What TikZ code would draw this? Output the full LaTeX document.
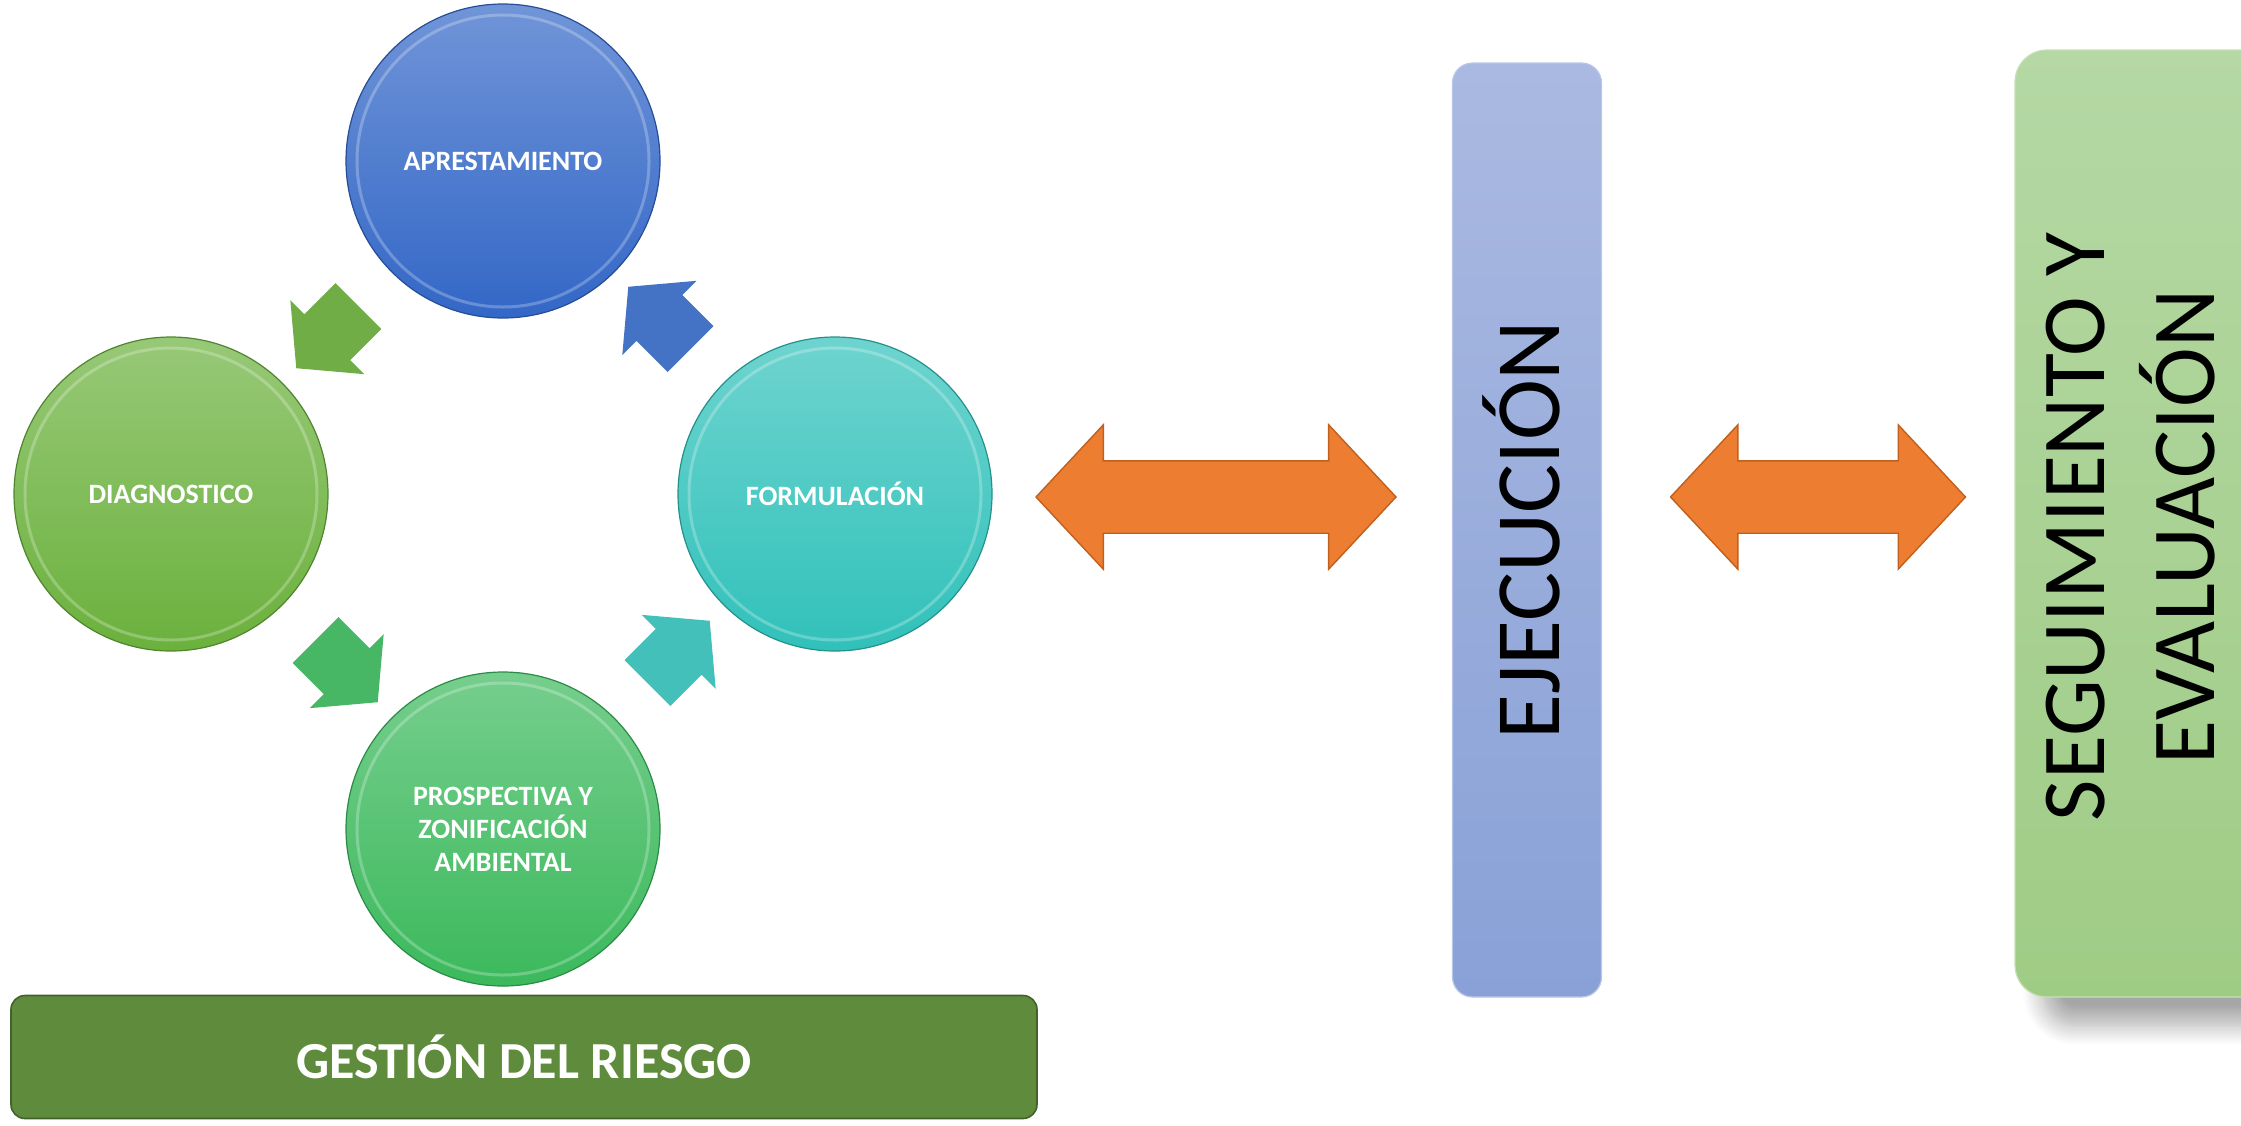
\documentclass[tikz,border=0pt]{standalone}
\usepackage{fontspec}
\setmainfont{Carlito}
\usepackage{xcolor}
\usepackage{tikz}
\usetikzlibrary{shapes.arrows,calc,shadows.blur}

\definecolor{apreBlue}{HTML}{3367C7}
\definecolor{diagGreen}{HTML}{6BB13D}
\definecolor{formTeal}{HTML}{31C1BA}
\definecolor{prosGreen}{HTML}{3BB95C}
\definecolor{turnGreen}{HTML}{70AD47}
\definecolor{turnMid}{HTML}{47B766}
\definecolor{turnTeal}{HTML}{44C0BA}
\definecolor{turnBlue}{HTML}{4472C4}
\definecolor{orng}{HTML}{ED7D31}
\definecolor{orngDark}{HTML}{C0601E}
\definecolor{riesgoGreen}{HTML}{5F8B3D}
\definecolor{ejecTop}{HTML}{AAB9E1}
\definecolor{ejecBot}{HTML}{89A1D7}
\definecolor{seguiTop}{HTML}{B5D8A4}
\definecolor{seguiBot}{HTML}{9FCC85}

\begin{document}
\begin{tikzpicture}[x=0.5pt, y=-0.5pt,
    bubble/.style={circle, minimum size=157pt, inner sep=0pt, align=center,
        text=white, font=\fontsize{14}{16.5}\selectfont\bfseries,
        draw=#1!75!black, line width=0.6pt,
        top color=#1!70!white, bottom color=#1,
        path picture={\draw[white, opacity=0.25, line width=1.5pt]
            (path picture bounding box.center) circle (73pt);}},
    turn/.style={single arrow, fill=#1, inner xsep=0pt, inner ysep=16pt,
        single arrow head extend=10pt, single arrow tip angle=100,
        minimum height=44pt},
    bidir/.style={double arrow, fill=orng, draw=orngDark, line width=0.7pt,
        inner xsep=0pt, inner ysep=17.75pt, double arrow head extend=18pt,
        double arrow tip angle=94, minimum height=#1},
    bigtext/.style={rotate=90, align=center, font=\fontsize{45}{55}\selectfont}]

    \clip (0,0) rectangle (2241,1125);

    % Cycle of the four phases
    \node[bubble=apreBlue] (apre) at (503,161) {APRESTAMIENTO};
    \node[bubble=diagGreen] (diag) at (171,494) {DIAGNOSTICO};
    \node[bubble=formTeal] (form) at (835,494) {FORMULACIÓN};
    \node[bubble=prosGreen] (pros) at (503,829) {PROSPECTIVA Y\\ZONIFICACIÓN\\AMBIENTAL};

    % Turning arrows between the phases
    \node[turn=turnGreen, rotate=225] (t1) at ($(apre)!0.5!(diag)$) {};
    \node[turn=turnMid, rotate=315] (t2) at ($(diag)!0.5!(pros)$) {};
    \node[turn=turnTeal, rotate=45] (t3) at ($(pros)!0.5!(form)$) {};
    \node[turn=turnBlue, rotate=135] (t4) at ($(form)!0.5!(apre)$) {};

    % Risk bar
    \node[rectangle, rounded corners=7pt, minimum width=513pt, minimum height=61.5pt,
        fill=riesgoGreen, draw=riesgoGreen!70!black, line width=0.8pt, text=white,
        font=\fontsize{26}{30}\selectfont\bfseries] (riesgo) at (524,1057) {GESTIÓN DEL RIESGO};

    % Two-way arrows
    \node[bidir=180pt] (bd1) at (1216,497) {};
    \node[bidir=147.5pt] (bd2) at (1818,497) {};

    % Execution
    \node[rectangle, rounded corners=10pt, minimum width=74.5pt, minimum height=467pt,
        top color=ejecTop, bottom color=ejecBot, draw=ejecBot!60!white, line width=0.6pt] (ejec) at (1527,530) {};
    \node[bigtext, font=\fontsize{46}{55}\selectfont] (ejecTxt) at ([xshift=-3pt]ejec.center) {EJECUCIÓN};

    % Follow-up and evaluation
    \node[rectangle, rounded corners=16pt, minimum width=140pt, minimum height=473.5pt,
        top color=seguiTop, bottom color=seguiBot, draw=seguiBot!60!white, line width=0.6pt,
        blur shadow={shadow xshift=14pt, shadow yshift=-14pt, shadow blur radius=10pt,
            shadow opacity=35, shadow blur steps=12}] (segui) at (2155,523.5) {};
    \node[bigtext] (seguiTxt) at (2131,527) {SEGUIMIENTO Y\\EVALUACIÓN};
\end{tikzpicture}
\end{document}
